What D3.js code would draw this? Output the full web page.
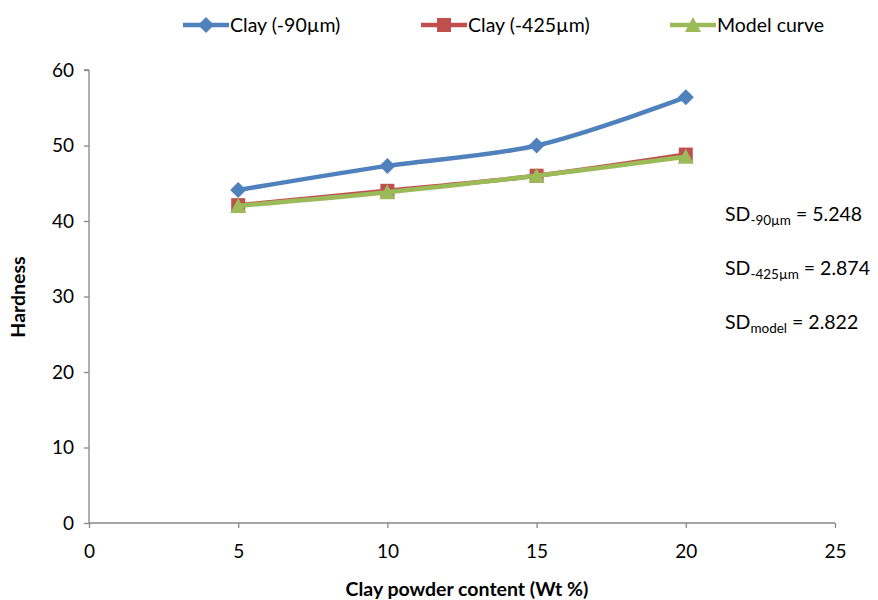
<!DOCTYPE html>
<html><head><meta charset="utf-8">
<script src="https://cdn.jsdelivr.net/npm/d3@7"></script>
<style>body{margin:0;background:#fff;} text{font-family:Lato,"Open Sans",sans-serif;}</style>
</head><body><svg id="c" width="878" height="600"></svg>
<script>
const xValues = [5, 10, 15, 20];
const clay90 = [44.1, 47.3, 50.0, 56.4];
const clay425 = [42.1, 44.0, 46.0, 48.8];
const model = [42.0, 43.8, 46.0, 48.5];
const xTicks = [0, 5, 10, 15, 20, 25];
const yTicks = [0, 10, 20, 30, 40, 50, 60];
const seriesNames = ["Clay (-90µm)", "Clay (-425µm)", "Model curve"];
const sdLabels = [["SD", "-90µm", " = 5.248"], ["SD", "-425µm", " = 2.874"], ["SD", "model", " = 2.822"]];

const svg = d3.select("#c");
const x = d3.scaleLinear().domain([0, 25]).range([89, 835]);
const y = d3.scaleLinear().domain([0, 60]).range([523, 70]);
const axisColor = "#868686";

const yAxis = svg.append("g").attr("transform", "translate(89,0)")
  .call(d3.axisLeft(y).tickValues(yTicks).tickSize(5).tickPadding(10));
const xAxis = svg.append("g").attr("transform", "translate(0,523)")
  .call(d3.axisBottom(x).tickValues(xTicks).tickSize(5).tickPadding(17));
[xAxis, yAxis].forEach(a => {
  a.selectAll("path,line").attr("stroke", axisColor).attr("stroke-width", 1.3);
  a.selectAll("text").attr("fill", "#000").style("font-size", "19px").style("font-family", "Lato, sans-serif");
});
yAxis.select(".domain").attr("d", "M0,523V70M-5,70H0");
xAxis.select(".domain").attr("d", "M89,0H835");

const series = [
  {vals: clay90, color: "#4F81BD", shape: "diamond"},
  {vals: clay425, color: "#C0504D", shape: "square"},
  {vals: model, color: "#9BBB59", shape: "triangle"}
];
const line = d3.line().x(d => x(d[0])).y(d => y(d[1])).curve(d3.curveCatmullRom.alpha(0.5));

function marker(g, shape, color, cx, cy) {
  if (shape === "diamond") {
    g.append("path").attr("d", `M${cx},${cy-8}L${cx+8},${cy}L${cx},${cy+8}L${cx-8},${cy}Z`).attr("fill", color);
  } else if (shape === "square") {
    g.append("rect").attr("x", cx-7).attr("y", cy-7).attr("width", 14).attr("height", 14).attr("fill", color);
  } else {
    g.append("path").attr("d", `M${cx},${cy-8}L${cx+8},${cy+7}L${cx-8},${cy+7}Z`).attr("fill", color);
  }
}

series.forEach(s => {
  const pts = xValues.map((v, i) => [v, s.vals[i]]);
  svg.append("path").datum(pts).attr("d", line).attr("fill", "none")
    .attr("stroke", s.color).attr("stroke-width", 4.5).attr("stroke-linejoin", "round");
  const g = svg.append("g");
  pts.forEach(p => marker(g, s.shape, s.color, x(p[0]), y(p[1])));
});

// legend
const legendX = [183, 421, 670];
seriesNames.forEach((n, i) => {
  const lx = legendX[i], ly = 25;
  svg.append("line").attr("x1", lx).attr("x2", lx+46).attr("y1", ly).attr("y2", ly)
    .attr("stroke", series[i].color).attr("stroke-width", 4.5);
  marker(svg, series[i].shape, series[i].color, lx+23, ly);
  svg.append("text").attr("x", lx+47).attr("y", ly+7).style("font-size", "19.5px").text(n);
});

// axis titles
svg.append("text").attr("transform", "translate(25,297) rotate(-90)").attr("text-anchor", "middle")
  .style("font-size", "19.5px").style("font-weight", "bold").text("Hardness");
svg.append("text").attr("x", 467).attr("y", 596).attr("text-anchor", "middle")
  .style("font-size", "19.5px").style("font-weight", "bold").text("Clay powder content (Wt %)");

// SD annotations
const sdY = [221, 275, 329];
sdLabels.forEach((l, i) => {
  const t = svg.append("text").attr("x", 725).attr("y", sdY[i]).style("font-size", "19.5px");
  t.append("tspan").text(l[0]);
  t.append("tspan").attr("dy", 4).style("font-size", "13.5px").text(l[1]);
  t.append("tspan").attr("dy", -4).text(l[2]);
});
</script></body></html>
